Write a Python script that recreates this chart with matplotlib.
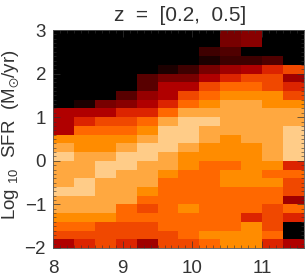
import numpy as np
import matplotlib
matplotlib.use("Agg")
import matplotlib.pyplot as plt
from matplotlib.colors import ListedColormap, BoundaryNorm

plt.rcParams['font.family'] = ['Liberation Sans', 'DejaVu Sans']
plt.rcParams['mathtext.fontset'] = 'dejavusans'
plt.rcParams['mathtext.default'] = 'regular'

title = "z  =  [0.2,  0.5]"
ylabel = "Log $_{10}$  SFR  (M$_{\\odot}$/yr)"
x_ticks = [8, 9, 10, 11]
y_ticks = [-2, -1, 0, 1, 2, 3]
mass_start = 8.0
mass_step = 0.3
sfr_top = 3.0
sfr_step = -0.2

# density level of each cell, top row (SFR 3.0-2.8) first
density = [
 [0,0,0,0,0,0,0,0,4,4.5,0,0],
 [0,0,0,0,0,0,0,0,4,4.5,0,0],
 [0,0,0,0,0,0,0,2,2.5,0,0,0],
 [0,0,0,0,0,0,0,1,2,2,2.5,0],
 [0,0,0,0,0,1,2,4,5.5,6,7,8],
 [0,0,0,0,3,4,4,6,7,8,8,5.5],
 [0,0,0,0,3,6,6,8,9,9,8,7],
 [0,0,0,3,5,6,8,9,10,10,10,8],
 [0,1,4,4.5,6,7,9,10,11,11,10,10],
 [6,6,6,7,7,9,11,11,11,11,11,11],
 [6,7,8,8,9,11,12,12,11,11,11,11],
 [6,9,9,9,10,12,12,11,11,11,11,12],
 [10,10,10,10,11,12,12,11,10,11,11,12],
 [11,10,10,11,12,12,11,10,10,10,11,12],
 [12,11,11,12,12,11,10,10,10,10,11,12],
 [11,11,12,12,11,11,10,9,9,10,10,7],
 [11,11,12,11,11,10,9,9,10,10,9,9],
 [11,12,11,11,11,9,9,9,10,10,10,8],
 [12,12,11,11,10,9,9,9,9,9,9,8],
 [11,11,11,11,9,9,9,9,9,9,9,5.5],
 [11,11,11,9,8,9,10,9,9,9,8,9],
 [10,10,10,9,9,9,9,9,9,7,8,7],
 [9,9,8,8,8,9,9,9,9,10,8,0],
 [8,8,8,8,8,8,9,10,10,10,9,0],
 [6,7,8,7,5.5,8,8,9,10,10,7,6],
]

levels = [0, 1, 2, 2.5, 3, 4, 4.5, 5, 5.5, 6, 7, 8, 9, 10, 11, 12]
colors = ['#000000', '#1c0000', '#3e0000', '#500000', '#580000', '#780000',
          '#880000', '#960000', '#a00000', '#b00000', '#dc2400', '#f04800', '#ff6800',
          '#ff8c00', '#ffa840', '#ffcc88']

z = np.array(density, dtype=float)
nrow, ncol = z.shape
x_edges = mass_start + mass_step * np.arange(ncol + 1)
y_edges = sfr_top + sfr_step * np.arange(nrow + 1)

bounds = [levels[0] - 0.1] + [(a + b) / 2 for a, b in zip(levels, levels[1:])] + [levels[-1] + 0.1]
cmap = ListedColormap(colors)
norm = BoundaryNorm(bounds, cmap.N)

W, H = 305, 277
fig = plt.figure(figsize=(W / 100, H / 100), dpi=100)
ax = fig.add_axes([53 / W, 1 - 248 / H, 251 / W, 218 / H])
ax.pcolormesh(x_edges, y_edges, z, cmap=cmap, norm=norm, shading='flat')
ax.set_xlim(8, 8 + 251 / 69.7)
ax.set_ylim(-2, 3)

ax.set_xticks(x_ticks)
ax.set_yticks(y_ticks)
ax.set_yticklabels(['\u2212' + str(-v) if v < 0 else str(v) for v in y_ticks])
ax.set_xticks(np.arange(8, 11.65, 0.1), minor=True)
ax.set_yticks(np.arange(-2, 3.01, 0.1), minor=True)
ax.tick_params(which='major', direction='in', length=5, width=0.5, color='#333333',
               top=True, right=True, labelsize=13.5, labelcolor='#333333')
ax.tick_params(which='minor', direction='in', length=2.2, width=0.4, color='#333333',
               top=True, right=True)
ax.tick_params(axis='x', which='major', pad=8.5)
ax.tick_params(axis='y', which='major', pad=5)
for s in ax.spines.values():
    s.set_linewidth(0.6)
    s.set_color('#555555')

fig.text(180 / W, 1 - 21 / H, title, fontsize=15, ha='center', va='baseline', color='#333333')
fig.text(11 / W, 1 - 135 / H, ylabel, rotation=90, ha='center', va='center',
         fontsize=13.5, color='#333333')
fig.savefig('out.png', dpi=100)
